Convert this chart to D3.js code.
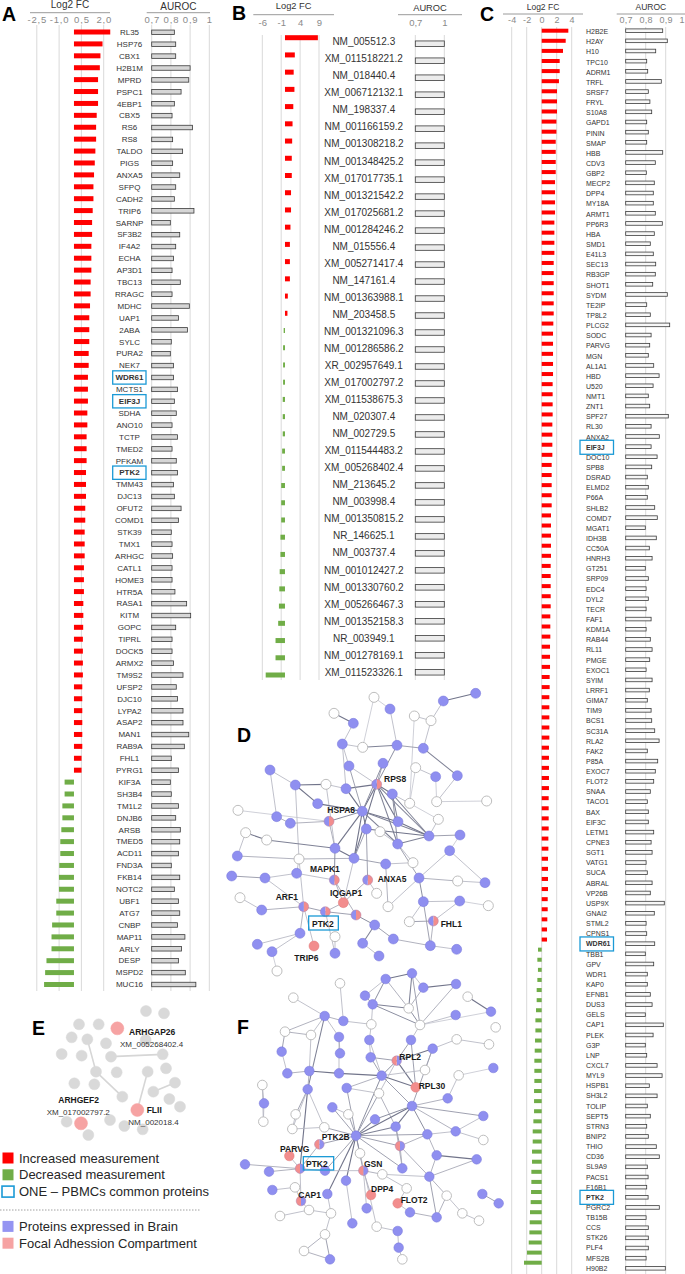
<!DOCTYPE html>
<html>
<head>
<meta charset="utf-8">
<script src="https://cdn.jsdelivr.net/npm/d3@7"></script>
<style>
  body { margin: 0; background: #fff; }
  svg { display: block; font-family: "Liberation Sans", Arial, sans-serif; }
</style>
</head>
<body>
<div id="fig"></div>
<script>
// ---------------- data ----------------
// panel A : proteins (Log2 FC and AUROC)
var aNames = ["RL35","HSP76","CBX1","H2B1M","MPRD","PSPC1","4EBP1","CBX5","RS6","RS8","TALDO","PIGS","ANXA5","SFPQ","CADH2","TRIP6","SARNP","SF3B2","IF4A2","ECHA","AP3D1","TBC13","RRAGC","MDHC","UAP1",
  "2ABA","SYLC","PURA2","NEK7","WDR61","MCTS1","EIF3J","SDHA","ANO10","TCTP","TMED2","PFKAM","PTK2","TMM43","DJC13","OFUT2","COMD1","STK39","TMX1","ARHGC","CATL1","HOME3","HTR5A","RASA1","KITM","GOPC",
  "TIPRL","DOCK5","ARMX2","TM9S2","UFSP2","DJC10","LYPA2","ASAP2","MAN1","RAB9A","FHL1","PYRG1",
  "KIF3A","SH3B4","TM1L2","DNJB6","ARSB","TMED5","ACD11","FND3A","FKB14","NOTC2","UBF1","ATG7","CNBP","MAP11","ARLY","DESP","MSPD2","MUC16"];
var aFc = [2.44,1.92,1.78,1.74,1.62,1.62,1.62,1.53,1.49,1.49,1.44,1.40,1.35,1.31,1.31,1.26,1.22,1.22,1.17,1.17,1.17,1.12,1.12,1.08,1.03,
  1.03,1.03,0.99,0.99,0.94,0.94,0.94,0.90,0.90,0.85,0.85,0.85,0.81,0.81,0.81,0.76,0.76,0.72,0.72,0.72,0.67,0.67,0.67,0.63,0.63,0.62,
  0.60,0.60,0.60,0.60,0.56,0.56,0.56,0.56,0.56,0.56,0.51,0.51,
  -0.63,-0.63,-0.78,-0.78,-0.85,-0.92,-0.92,-0.99,-1.01,-1.01,-1.19,-1.19,-1.47,-1.51,-1.51,-1.85,-1.94,-2.01];
var aAuc = [0.818,0.825,0.825,0.900,0.893,0.853,0.818,0.806,0.912,0.809,0.861,0.809,0.846,0.825,0.818,0.920,0.797,0.846,0.825,0.814,0.806,0.849,0.806,0.896,0.839,
  0.886,0.802,0.797,0.813,0.814,0.834,0.818,0.828,0.806,0.834,0.806,0.828,0.834,0.813,0.818,0.853,0.839,0.802,0.806,0.809,0.806,0.806,0.821,0.882,0.903,0.825,
  0.806,0.806,0.813,0.863,0.828,0.834,0.863,0.863,0.893,0.870,0.802,0.839,
  0.797,0.802,0.839,0.825,0.849,0.846,0.839,0.802,0.846,0.818,0.839,0.846,0.834,0.873,0.855,0.839,0.875,0.930];

// panel B : transcripts
var bNames = ["NM_005512.3","XM_011518221.2","NM_018440.4","XM_006712132.1","NM_198337.4","NM_001166159.2","NM_001308218.2","NM_001348425.2","XM_017017735.1","NM_001321542.2","XM_017025681.2","NM_001284246.2","NM_015556.4","XM_005271417.4","NM_147161.4","NM_001363988.1","NM_203458.5",
  "NM_001321096.3","NM_001286586.2","XR_002957649.1","XM_017002797.2","XM_011538675.3","NM_020307.4","NM_002729.5","XM_011544483.2","XM_005268402.4","NM_213645.2","NM_003998.4","NM_001350815.2","NR_146625.1","NM_003737.4","NM_001012427.2","NM_001330760.2","XM_005266467.3","NM_001352158.3","NR_003949.1","NM_001278169.1","XM_011523326.1"];
var bFc = [8.7,2.6,2.3,2.5,2.2,2.0,1.9,1.8,1.8,1.6,1.6,1.45,1.3,1.3,1.3,0.75,0.65,
  -0.35,-0.5,-0.5,-0.5,-0.6,-0.6,-0.6,-0.75,-0.75,-1.0,-1.0,-1.0,-1.2,-1.2,-1.4,-1.5,-1.6,-1.8,-2.5,-2.5,-5.1];
var bAuc = [1,1,1,1,1,1,1,1,1,1,1,1,1,1,1,1,1,1,1,1,1,1,1,1,1,1,1,1,1,1,1,1,1,1,1,1,1,1];

// panel C : proteins
var cNames = ["H2B2E","H2AY","H10","TPC10","ADRM1","TRFL","SRSF7","FRYL","S10A8","GAPD1","PININ","SMAP","HBB","CDV3","GBP2","MECP2","DPP4","MY18A","ARMT1","PP6R3","HBA","SMD1","E41L3","SEC13","RB3GP","SHOT1","SYDM","TE2IP","TP8L2","PLCG2",
  "SODC","PARVG","MGN","AL1A1","HBD","U520","NMT1","ZNT1","SPF27","RL30","ANXA2","EIF3J","DOC10","SPB8","DSRAD","ELMD2","P66A","SHLB2","COMD7","MGAT1","IDH3B","CC50A","HNRH3","GT251","SRP09","EDC4","DYL2","TECR","FAF1","KDM1A","RAB44",
  "RL11","PMGE","EXOC1","SYIM","LRRF1","GIMA7","TIM9","BCS1","SC31A","RLA2","FAK2","P85A","EXOC7","FLOT2","SNAA","TACO1","BAX","EIF3C","LETM1","CPNE3","SGT1","VATG1","SUCA","ABRAL","VP26B","USP9X","GNAI2","STML2","CPNS1","WDR61",
  "TBB1","GPV","WDR1","KAP0","EFNB1","DUS3","GELS","CAP1","PLEK","G3P","LNP","CXCL7","MYL9","HSPB1","SH3L2","TOLIP","SEPT5","STRN3","BNIP2","THIO","CD36","SL9A9","PACS1","F16B1","PTK2","PGRC2","TB15B","CCS","STK26","PLF4","MFS2B","H90B2"];
var cFc = [3.55,3.2,2.84,2.4,2.4,2.3,2.04,2.04,2.04,1.96,1.96,1.87,1.87,1.87,1.87,1.78,1.78,1.78,1.78,1.69,1.69,1.69,1.69,1.6,1.6,1.6,1.6,1.6,1.6,1.55,
  1.51,1.51,1.51,1.51,1.51,1.46,1.46,1.46,1.46,1.42,1.42,1.42,1.42,1.33,1.33,1.33,1.33,1.33,1.24,1.24,1.24,1.24,1.24,1.2,1.2,1.2,1.2,1.2,1.15,1.15,1.15,
  1.11,1.11,1.11,1.06,1.06,1.02,1.02,1.02,1.02,1.02,0.97,0.97,0.97,0.97,0.97,0.93,0.93,0.93,0.93,0.89,0.89,0.84,0.84,0.84,0.84,0.8,0.8,0.75,0.71,0.71,
  -0.49,-0.58,-0.5,-0.58,-0.67,-0.67,-0.76,-0.84,-0.84,-0.89,-0.93,-0.98,-0.98,-0.98,-1.02,-1.02,-1.02,-1.11,-1.2,-1.2,-1.29,-1.29,-1.38,-1.38,-1.42,-1.47,-1.56,-1.6,-1.64,-1.73,-1.96,-2.36];
var cAuc = [0.885,0.908,0.85,0.805,0.81,0.878,0.813,0.821,0.83,0.805,0.813,0.805,0.885,0.848,0.803,0.843,0.838,0.838,0.848,0.883,0.843,0.823,0.838,0.85,0.848,0.835,0.908,0.805,0.823,0.92,
  0.827,0.82,0.813,0.84,0.867,0.837,0.813,0.82,0.913,0.827,0.868,0.827,0.857,0.83,0.808,0.813,0.808,0.845,0.858,0.798,0.853,0.818,0.832,0.798,0.813,0.802,0.813,0.802,0.827,0.802,0.823,
  0.832,0.82,0.802,0.832,0.818,0.808,0.827,0.83,0.845,0.867,0.808,0.86,0.848,0.84,0.823,0.808,0.813,0.813,0.84,0.827,0.832,0.802,0.808,0.832,0.823,0.893,0.843,0.802,0.805,0.845,
  0.798,0.84,0.808,0.808,0.823,0.832,0.798,0.888,0.837,0.798,0.805,0.857,0.882,0.818,0.857,0.808,0.823,0.805,0.813,0.853,0.868,0.808,0.812,0.805,0.812,0.868,0.802,0.813,0.813,0.813,0.802,0.898];

var commonProteins = ["WDR61","EIF3J","PTK2"];

var aFcTicks = [-2.5,-1,0.5,2], aFcTickLabels = ["-2,5","-1,0","0,5","2,0"];
var bFcTicks = [-6,-1,4,9],    bFcTickLabels = ["-6","-1","4","9"];
var cFcTicks = [-4,-2,0,2,4],  cFcTickLabels = ["-4","-2","0","2","4"];
var aucTicks = [0.7,0.8,0.9,1], aucTickLabels = ["0,7","0,8","0,9","1"];
var bAucTicks = [0.7,1],        bAucTickLabels = ["0,7","1"];

// networks: node positions (crop pixel units), type b=brain, w=other, p=focal adhesion, h=both
var dNodes = [[432,172,"w"],[640,183,"b"],[737,160,"b"],[480,207,"b"],[312,220,"w"],[370,250,"b"],[553,228,"w"],[603,242,"w"],[337,312,"b"],[398,322,"w"],
  [501,316,"b"],[580,325,"b"],[120,390,"b"],[357,378,"b"],[459,370,"b"],[557,383,"w"],[617,410,"b"],[682,407,"b"],[196,435,"b"],[288,433,"w"],
  [348,446,"b"],[440,433,"h"],[487,462,"b"],[263,491,"b"],[539,490,"w"],[620,485,"w"],[770,483,"w"],[24,511,"w"],[397,514,"b"],[140,530,"b"],
  [181,550,"b"],[297,544,"h"],[504,545,"b"],[625,538,"w"],[47,578,"w"],[110,600,"w"],[409,567,"b"],[450,575,"w"],[597,588,"b"],[690,585,"b"],
  [503,612,"b"],[315,625,"b"],[659,632,"b"],[22,648,"b"],[207,657,"w"],[372,655,"b"],[549,668,"w"],[467,672,"b"],[200,700,"b"],[5,708,"b"],
  [105,714,"b"],[313,720,"h"],[413,720,"h"],[567,714,"b"],[683,723,"w"],[765,728,"b"],[30,773,"w"],[340,788,"p"],[440,760,"w"],[580,785,"b"],
  [689,783,"b"],[775,797,"w"],[221,800,"h"],[286,815,"h"],[378,825,"h"],[95,810,"b"],[474,800,"w"],[538,845,"w"],[610,843,"h"],[434,855,"b"],
  [210,880,"b"],[82,913,"b"],[126,935,"b"],[252,918,"p"],[315,940,"b"],[315,890,"w"],[398,910,"b"],[447,948,"b"],[490,897,"b"],[601,917,"b"],
  [680,928,"b"],[141,993,"w"]];
var dEdges = [[1,2,.8],[1,7,.3],[3,10,.3],[4,5,.8],[6,7,.3],[7,11,.3],[6,24,.2],[9,10,.7],[8,9,.3],[10,11,.5],[11,17,.7],[10,21,.6],[8,13,.3],[8,20,.3],
  [12,18,.3],[13,21,.3],[14,21,.5],[15,16,.3],[17,25,.3],[16,25,.2],[18,19,.8],[18,23,.8],[18,44,.3],[19,20,.3],[19,41,.3],[20,21,.8],[21,28,.8],[21,22,.8],
  [21,32,.8],[21,38,.7],[21,40,.7],[21,45,.8],[22,32,.7],[22,38,.7],[22,40,.6],[23,28,.8],[27,31,.2],[28,31,.6],[28,32,.8],[28,36,.8],[28,41,.8],[28,45,.8],
  [28,38,.7],[28,40,.7],[28,20,.8],[28,13,.5],[29,30,.4],[30,31,.4],[34,35,.8],[35,41,.7],[34,43,.3],[36,38,.8],[37,40,.3],[32,38,.8],[40,38,.7],[33,24,.2],
  [24,15,.2],[25,26,.2],[33,38,.3],[38,39,.5],[39,42,.2],[43,44,.4],[44,45,.4],[44,48,.3],[48,51,.3],[51,41,.6],[41,45,.8],[45,47,.5],[47,46,.3],[46,40,.3],
  [49,50,.5],[50,62,.3],[51,57,.4],[52,57,.4],[52,36,.5],[53,54,.4],[54,55,.3],[53,59,.6],[53,40,.5],[56,65,.3],[58,52,.3],[59,60,.3],[60,61,.2],[62,63,.5],
  [62,65,.4],[62,70,.4],[62,44,.3],[63,64,.5],[63,57,.4],[64,69,.6],[64,51,.4],[66,47,.4],[66,53,.3],[67,68,.5],[67,59,.3],[68,60,.3],[69,76,.7],[69,78,.5],
  [70,72,.3],[70,71,.3],[73,62,.3],[74,75,.3],[74,63,.3],[76,77,.3],[78,79,.4],[79,80,.3],[59,79,.5],[68,79,.4],[72,81,.2],[0,9,.2],[3,0,.2],[5,8,.3],
  [14,28,.6],[12,29,.3],[22,24,.3],[31,41,.4],[36,45,.5],[57,45,.3],[48,50,.3],[42,53,.3],[55,42,.3]];
var dLabels = [["RPS8",462,425],["HSPA8",292,520],["MAPK1",240,697],["ANXA5",443,725],["IQGAP1",300,768],["ARF1",137,780],["FHL1",632,862],["PTK2",246,860],["TRIP6",193,962]];
var dBoxes = [[236,828,325,870]];

var fNodes = [[467,147,"b"],[546,130,"b"],[330,160,"w"],[580,173,"b"],[678,162,"b"],[405,197,"b"],[190,203,"w"],[428,223,"b"],[536,235,"w"],[713,200,"w"],
  [783,245,"b"],[284,258,"b"],[340,273,"b"],[424,283,"w"],[570,285,"w"],[677,255,"b"],[797,292,"w"],[165,305,"w"],[243,315,"w"],[327,321,"b"],
  [418,330,"b"],[543,330,"b"],[680,328,"w"],[777,343,"w"],[155,365,"b"],[330,370,"b"],[608,356,"b"],[422,382,"b"],[500,392,"h"],[585,420,"w"],
  [790,414,"b"],[172,430,"b"],[238,423,"b"],[327,430,"b"],[455,437,"b"],[686,436,"w"],[97,465,"w"],[233,478,"b"],[350,474,"b"],[557,472,"p"],
  [447,490,"w"],[653,505,"b"],[102,520,"b"],[307,532,"b"],[546,528,"b"],[197,553,"w"],[355,553,"w"],[100,575,"w"],[435,568,"b"],[760,558,"b"],
  [187,597,"w"],[283,592,"w"],[497,590,"b"],[378,617,"b"],[268,643,"h"],[510,648,"h"],[592,613,"b"],[677,604,"b"],[760,630,"w"],[178,678,"p"],
  [390,670,"w"],[620,676,"b"],[740,688,"b"],[45,703,"b"],[117,725,"b"],[210,716,"h"],[285,722,"b"],[400,722,"h"],[457,733,"w"],[517,715,"b"],
  [598,740,"b"],[348,752,"b"],[195,772,"w"],[127,780,"b"],[292,792,"b"],[530,775,"w"],[423,795,"p"],[213,813,"h"],[650,797,"w"],[757,792,"b"],
  [806,820,"b"],[503,820,"p"],[237,840,"w"],[410,835,"b"],[540,847,"b"],[620,862,"b"],[697,850,"w"],[747,872,"w"],[150,858,"w"],[303,850,"w"],
  [367,880,"b"],[440,890,"w"],[503,903,"b"],[285,913,"w"],[222,963,"w"],[300,988,"b"],[506,953,"b"],[517,988,"w"]];
var fEdges = [[0,1,.8],[0,7,.6],[0,8,.4],[1,8,.7],[1,14,.5],[3,4,.8],[3,8,.4],[4,14,.4],[5,7,.5],[7,8,.7],[7,14,.6],[7,13,.3],[8,14,.6],[9,10,.8],
  [2,12,.3],[11,12,.4],[11,6,.3],[11,17,.4],[11,18,.3],[11,19,.3],[11,37,.7],[12,13,.3],[13,20,.3],[14,21,.3],[14,15,.3],[17,18,.4],[17,24,.5],[18,32,.3],
  [19,25,.4],[20,27,.3],[21,28,.5],[21,39,.5],[22,23,.3],[22,26,.3],[26,28,.8],[26,29,.3],[27,28,.5],[27,34,.5],[28,34,.6],[28,39,.8],[28,40,.3],[29,34,.3],
  [31,32,.4],[32,33,.8],[33,34,.8],[34,39,.8],[34,53,.6],[34,44,.5],[35,30,.2],[35,41,.3],[36,42,.3],[36,47,.3],[37,32,.4],[37,45,.5],[37,50,.3],[37,51,.3],
  [37,65,.8],[38,53,.5],[38,34,.4],[38,40,.3],[40,53,.5],[40,52,.4],[43,53,.5],[43,46,.3],[44,52,.8],[44,53,.8],[44,48,.6],[44,56,.6],[44,49,.5],[44,57,.4],
  [44,41,.4],[44,26,.5],[45,50,.3],[50,51,.3],[51,53,.5],[46,53,.5],[48,53,.7],[52,53,.7],[53,54,.5],[53,55,.5],[53,60,.5],[53,67,.6],[53,71,.8],[53,74,.8],
  [53,69,.5],[53,56,.5],[53,66,.5],[52,55,.5],[55,70,.4],[55,56,.4],[56,61,.4],[56,57,.3],[57,58,.3],[59,65,.3],[61,62,.8],[61,70,.4],[62,70,.4],[63,65,.4],
  [64,65,.4],[65,66,.4],[65,54,.4],[65,77,.3],[66,67,.3],[67,68,.4],[67,76,.4],[68,75,.3],[68,70,.3],[70,78,.4],[70,85,.5],[78,85,.4],[78,86,.3],[72,77,.3],
  [73,72,.3],[74,89,.3],[79,80,.5],[81,84,.3],[75,81,.3],[82,77,.3],[82,88,.3],[82,89,.3],[89,93,.3],[93,94,.4],[94,95,.4],[93,95,.5],[83,67,.3],[84,85,.4],
  [86,87,.3],[90,71,.3],[91,60,.3],[92,96,.3],[96,97,.3],[69,55,.4],[24,31,.3],[42,47,.3],[49,57,.3],[0,5,.3],[1,3,.3],[19,33,.3],[20,34,.3],[10,14,.2],
  [69,52,.4],[91,92,.3]];
var fLabels = [["RPL2",508,390],["RPL30",566,477],["PTK2B",275,630],["PARVG",150,667],["PTK2",228,710],["GSN",402,710],["DPP4",423,785],["CAP1",205,803],["FLOT2",512,820]];
var fBoxes = [[220,680,311,720]];

var eNodes = [[438,333,"g"],[492,340,"g"],[237,373,"g"],[296,373,"g"],[215,412,"g"],[262,418,"g"],[318,430,"g"],[437,420,"g"],[185,462,"g"],[245,467,"g"],
  [333,470,"g"],[488,463,"g"],[288,515,"g"],[350,517,"g"],[443,515,"g"],[498,505,"g"],[223,550,"g"],[283,553,"g"],[525,548,"g"],[460,575,"g"],
  [367,590,"g"],[508,597,"g"],[540,620,"g"],[200,665,"g"],[330,660,"g"],[373,678,"g"],[428,688,"g"],[265,705,"g"],[352,385,"p"],[412,630,"p"],[243,670,"p"]];
var eEdges = [[5,12,.2],[12,20,.2],[10,11,.2],[14,29,.2],[19,18,.2]];
var eLabels = [["ARHGAP26",387,405,"bold"],["XM_005268402.4",360,442,"normal"],["ARHGEF2",175,610,"bold"],["XM_017002797.2",140,645,"normal"],["FLII",440,640,"bold"],["NM_002018.4",385,674,"normal"]];

var legendItems = [["Increased measurement","#ff0000","fill"],["Decreased measurement","#70ad47","fill"],["ONE \u2013 PBMCs common proteins","#1b9ad6","box"],
  ["Proteins expressed in Brain","#9494f2","fill"],["Focal Adhession Compartment","#f6a3a3","fill"]];

// ---------------- drawing ----------------
var RED = "#ff0000", GREEN = "#70ad47", BLUE = "#1b9ad6";
var BRAIN = "#8f8ff0", FOCAL = "#f28d8d";

var svg = d3.select("#fig").append("svg")
    .attr("width", 685)
    .attr("height", 1274);
svg.append("rect").attr("width", 685).attr("height", 1274).attr("fill", "#fff");

function barPanel(p) {
  var g = svg.append("g");
  var fx = d3.scaleLinear().domain(p.fcDomain).range(p.fcRange);
  var ax = d3.scaleLinear().domain([0.7, 1]).range(p.aucRange);
  var yLab = d3.scalePoint().domain(p.names).range(p.labRows);
  var yFc = d3.scalePoint().domain(p.names).range(p.fcRows);
  var yAuc = d3.scalePoint().domain(p.names).range(p.aucRows);

  // gridlines
  g.selectAll(".gf").data(p.fcTicks).enter().append("line")
    .attr("x1", fx).attr("x2", fx)
    .attr("y1", p.gridTop).attr("y2", p.gridBottom)
    .attr("stroke", "#d9d9d9").attr("stroke-width", 1);
  g.selectAll(".ga").data(p.aucTicks).enter().append("line")
    .attr("x1", ax).attr("x2", ax)
    .attr("y1", p.gridTop).attr("y2", p.gridBottom)
    .attr("stroke", "#d9d9d9").attr("stroke-width", 1);

  // titles with underline
  [["Log2 FC", p.fcTitle], ["AUROC", p.aucTitle]].forEach(function(t) {
    var r = t[1];
    g.append("text").attr("x", (r[0] + r[1]) / 2).attr("y", r[2])
      .attr("text-anchor", "middle").attr("font-size", p.titleSize)
      .attr("fill", "#333").text(t[0]);
    g.append("line").attr("x1", r[0]).attr("x2", r[1]).attr("y1", r[3]).attr("y2", r[3])
      .attr("stroke", "#9a9a9a").attr("stroke-width", 1);
  });

  // tick labels
  function ticks(scale, vals, labs) {
    g.append("g")
      .attr("transform", "translate(0," + p.tickY + ")")
      .call(d3.axisTop(scale).tickValues(vals)
        .tickFormat(function(d, i) { return labs[i]; })
        .tickSize(0).tickPadding(0))
      .attr("font-family", null)
      .attr("font-size", p.tickSize)
      .call(function(a) { a.select(".domain").remove(); })
      .selectAll("text")
        .attr("fill", "#8a8a8a")
        .attr("letter-spacing", p.tickSpacing)
        // keep the last label inside the page
        .attr("text-anchor", function(d) { return scale(d) > 680 ? "end" : null; })
        .attr("dx", function(d) { return scale(d) > 680 ? -1.5 : null; });
  }
  ticks(fx, p.fcTicks, p.fcTickLabels);
  ticks(ax, p.aucTicks, p.aucTickLabels);

  // Log2 FC bars
  g.selectAll(".fc").data(p.names).enter().append("rect")
    .attr("x", function(d, i) { return Math.min(fx(0), fx(p.fc[i])); })
    .attr("width", function(d, i) { return Math.abs(fx(p.fc[i]) - fx(0)); })
    .attr("y", function(d) { return yFc(d) - p.fcBarH / 2; })
    .attr("height", p.fcBarH)
    .attr("fill", function(d, i) { return p.fc[i] > 0 ? RED : GREEN; });

  // labels
  g.selectAll(".lab").data(p.names).enter().append("text")
    .attr("x", p.labelX)
    .attr("y", function(d) { return yLab(d); })
    .attr("dy", "0.35em")
    .attr("text-anchor", p.labelAnchor)
    .attr("font-size", p.labelSize)
    .attr("font-weight", function(d) { return p.boxW && commonProteins.indexOf(d) >= 0 ? "bold" : null; })
    .attr("fill", "#333")
    .text(function(d) { return d; });

  if (p.boxW) {
    g.selectAll(".box").data(p.names.filter(function(n) { return commonProteins.indexOf(n) >= 0; }))
      .enter().append("rect")
      .attr("x", p.boxX)
      .attr("y", function(d) { return yLab(d) - p.boxH / 2; })
      .attr("width", p.boxW).attr("height", p.boxH)
      .attr("fill", "none").attr("stroke", BLUE).attr("stroke-width", 1.3);
  }

  // AUROC bars
  g.selectAll(".auc").data(p.names).enter().append("rect")
    .attr("x", ax(0.7))
    .attr("width", function(d, i) { return ax(p.auc[i]) - ax(0.7); })
    .attr("y", function(d) { return yAuc(d) - p.aucBarH / 2; })
    .attr("height", p.aucBarH)
    .attr("fill", p.aucFill)
    .attr("stroke", "#3a3a3a").attr("stroke-width", 0.8);
}

barPanel({
  names: aNames, fc: aFc, auc: aAuc,
  fcDomain: [-2.5, 2], fcRange: [36.8, 103.7], fcTicks: aFcTicks, fcTickLabels: aFcTickLabels,
  aucRange: [151.7, 209.3], aucTicks: aucTicks, aucTickLabels: aucTickLabels,
  labRows: [32.3, 984.5], fcRows: [32, 984.5], aucRows: [32.3, 984.5],
  gridTop: 25, gridBottom: 991,
  fcTitle: [30, 110, 7.8, 12.7], aucTitle: [146.7, 210, 9.6, 12.7], titleSize: 10,
  tickY: 23, tickSize: 9.5, tickSpacing: 0.8,
  labelX: 129.5, labelAnchor: "middle", labelSize: 8,
  fcBarH: 5, aucBarH: 4.5, aucFill: "#d6d6d6",
  boxX: 112.7, boxW: 33.3, boxH: 13.3
});

barPanel({
  names: bNames, fc: bFc, auc: bAuc,
  fcDomain: [-6, 9], fcRange: [262.3, 319], fcTicks: bFcTicks, fcTickLabels: bFcTickLabels,
  aucRange: [415.3, 444.3], aucTicks: bAucTicks, aucTickLabels: bAucTickLabels,
  labRows: [41.7, 672.3], fcRows: [37.7, 675], aucRows: [43.7, 672.3],
  gridTop: 35, gridBottom: 680,
  fcTitle: [253.3, 334, 9.3, 14.7], aucTitle: [398, 462, 10.7, 14.7], titleSize: 9.3,
  tickY: 26, tickSize: 9.5, tickSpacing: 0,
  labelX: 363.8, labelAnchor: "middle", labelSize: 10,
  fcBarH: 5, aucBarH: 5.5, aucFill: "#ececec"
});

barPanel({
  names: cNames, fc: cFc, auc: cAuc,
  fcDomain: [-4, 4], fcRange: [511.7, 571.7], fcTicks: cFcTicks, fcTickLabels: cFcTickLabels,
  aucRange: [625.7, 685.7], aucTicks: aucTicks, aucTickLabels: aucTickLabels,
  labRows: [31.7, 1268.3], fcRows: [30.7, 1262.7], aucRows: [30.7, 1268.3],
  gridTop: 27, gridBottom: 1274,
  fcTitle: [503, 583, 9.7, 14], aucTitle: [616.7, 685, 9.7, 14], titleSize: 8.5,
  tickY: 23.3, tickSize: 9, tickSpacing: 0.3,
  labelX: 586, labelAnchor: "start", labelSize: 7,
  fcBarH: 4, aucBarH: 3.6, aucFill: "#f7f7f7",
  boxX: 580, boxW: 33.5, boxH: 14
});

// ---------------- networks ----------------
var halfArc = d3.arc().innerRadius(0);
var edgeColor = d3.scaleLinear().domain([0, 1]).range(["#dedee4", "#565a74"]);

function network(n) {
  var g = svg.append("g");
  var sx = n.sx, sy = n.sy;
  g.selectAll(".e").data(n.edges).enter().append("line")
    .attr("x1", function(e) { return sx(n.nodes[e[0]][0]); })
    .attr("y1", function(e) { return sy(n.nodes[e[0]][1]); })
    .attr("x2", function(e) { return sx(n.nodes[e[1]][0]); })
    .attr("y2", function(e) { return sy(n.nodes[e[1]][1]); })
    .attr("stroke", function(e) { return n.edgeFlat || edgeColor(e[2]); })
    .attr("stroke-width", function(e) { return n.edgeW || (0.7 + e[2] * 0.5); });

  var nd = g.selectAll(".n").data(n.nodes).enter().append("g")
    .attr("transform", function(d) { return "translate(" + sx(d[0]) + "," + sy(d[1]) + ")"; });
  nd.each(function(d) {
    var s = d3.select(this);
    var r = d[2] === "p" && n.pinkR ? n.pinkR : n.r;
    if (d[2] === "h") {
      // split node: brain + focal adhesion
      s.append("path").attr("d", halfArc.outerRadius(r)({startAngle: 0, endAngle: Math.PI}))
        .attr("fill", n.pinkLeft ? BRAIN : FOCAL);
      s.append("path").attr("d", halfArc.outerRadius(r)({startAngle: Math.PI, endAngle: 2 * Math.PI}))
        .attr("fill", n.pinkLeft ? FOCAL : BRAIN);
      s.append("circle").attr("r", r).attr("fill", "none").attr("stroke", "#b07fa8").attr("stroke-width", 0.5);
    } else {
      var fill = { b: BRAIN, w: "#fff", p: n.pinkColor || FOCAL, g: "#d9d9d9" }[d[2]];
      var stroke = { b: "#7777d8", w: "#b5b5b5", p: n.pinkColor || "#e07878", g: "#d9d9d9" }[d[2]];
      s.append("circle").attr("r", r).attr("fill", fill).attr("stroke", stroke).attr("stroke-width", d[2] === "w" ? 0.9 : 0.5);
    }
  });

  g.selectAll(".l").data(n.labels).enter().append("text")
    .attr("x", function(d) { return sx(d[1]); })
    .attr("y", function(d) { return sy(d[2]); })
    .attr("font-size", function(d) { return d[3] === "normal" ? 8 : 8.5; })
    .attr("font-weight", function(d) { return d[3] || "bold"; })
    .attr("fill", function(d) { return d[3] === "normal" ? "#333" : "#1a1a1a"; })
    .text(function(d) { return d[0]; });

  g.selectAll(".bx").data(n.boxes || []).enter().append("rect")
    .attr("x", function(d) { return sx(d[0]); })
    .attr("y", function(d) { return sy(d[1]); })
    .attr("width", function(d) { return sx(d[2]) - sx(d[0]); })
    .attr("height", function(d) { return sy(d[3]) - sy(d[1]); })
    .attr("fill", "none").attr("stroke", BLUE).attr("stroke-width", 1.3);
}

network({
  nodes: dNodes, edges: dEdges, labels: dLabels, boxes: dBoxes, r: 5,
  sx: d3.scaleLinear().domain([0, 840]).range([230, 510]),
  sy: d3.scaleLinear().domain([0, 900]).range([640, 940])
});
network({
  nodes: fNodes, edges: fEdges, labels: fLabels, boxes: fBoxes, r: 4.8, pinkLeft: true,
  sx: d3.scaleLinear().domain([0, 840]).range([230, 510]),
  sy: d3.scaleLinear().domain([0, 1032]).range([930, 1274])
});
network({
  nodes: eNodes, edges: eEdges, labels: eLabels, r: 5.5, pinkR: 6.5, pinkColor: "#f6a3a3",
  edgeFlat: "#d6d6d6", edgeW: 1.6,
  sx: d3.scaleLinear().domain([0, 720]).range([0, 240]),
  sy: d3.scaleLinear().domain([0, 1122]).range([900, 1274])
});

// panel letters
[["A", 2, 21], ["B", 232, 19.5], ["C", 480, 21], ["D", 237, 742], ["E", 32, 1035], ["F", 237, 1034]].forEach(function(l) {
  svg.append("text").attr("x", l[1]).attr("y", l[2])
    .attr("font-size", 19.5).attr("font-weight", "bold").attr("fill", "#000").text(l[0]);
});

// ---------------- legend ----------------
var lg = svg.append("g");
legendItems.forEach(function(item, i) {
  var y = 1158 + i * 16.8 + (i >= 3 ? 18 : 0);
  if (item[2] === "box") {
    lg.append("rect").attr("x", 2).attr("y", y - 5.5).attr("width", 12).attr("height", 11)
      .attr("fill", "#fff").attr("stroke", item[1]).attr("stroke-width", 1.6);
  } else {
    lg.append("rect").attr("x", 2.5).attr("y", y - 5.5).attr("width", 11).attr("height", 11).attr("fill", item[1]);
  }
  lg.append("text").attr("x", 19).attr("y", y).attr("dy", "0.35em")
    .attr("font-size", 13).attr("fill", "#262626").text(item[0]);
});
lg.append("line").attr("x1", 0).attr("x2", 200).attr("y1", 1210).attr("y2", 1210)
  .attr("stroke", "#a0a0a0").attr("stroke-dasharray", "1.5,1.5");
</script>
</body>
</html>
